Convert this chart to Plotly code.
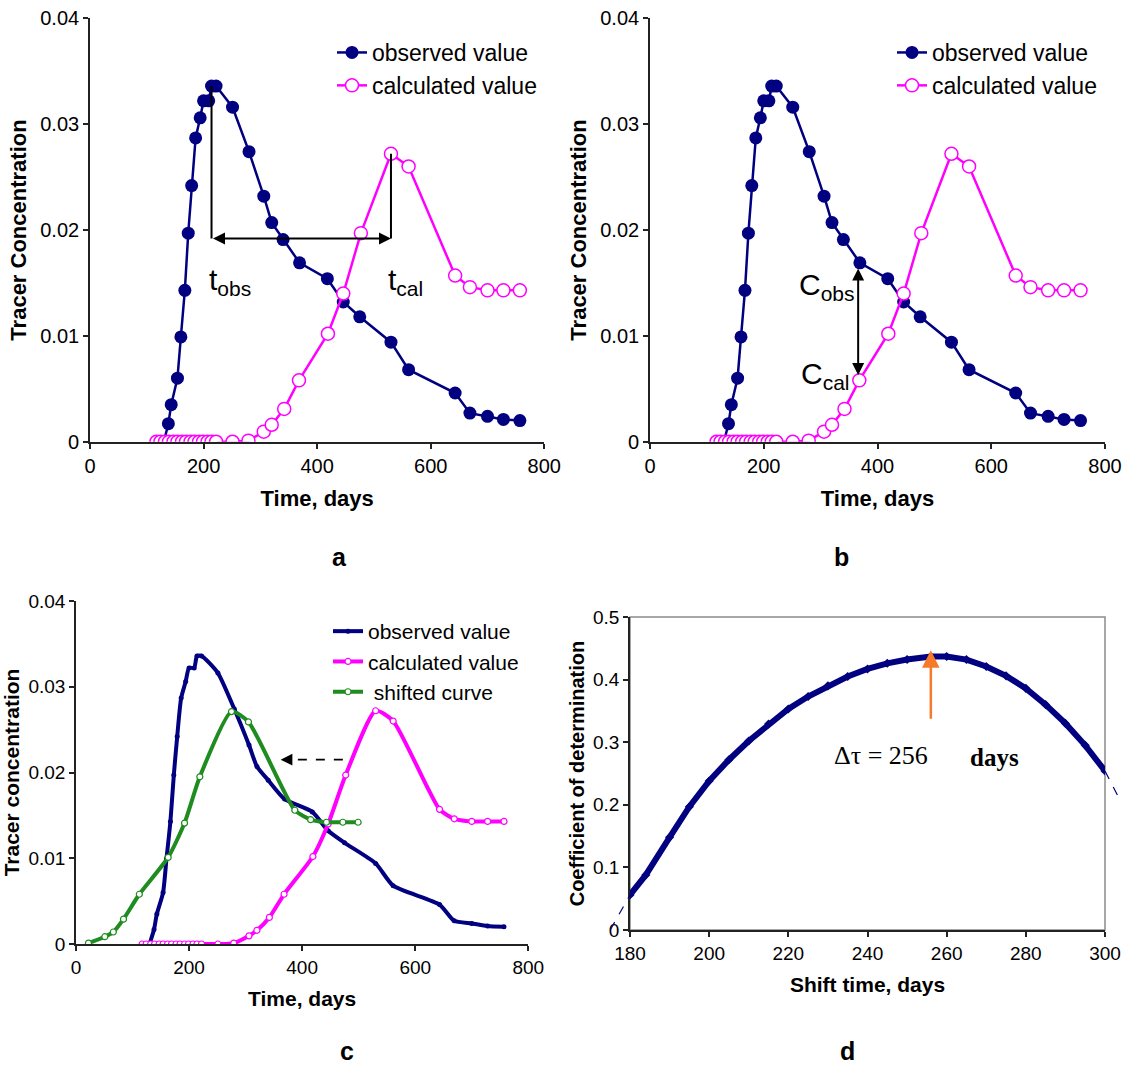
import plotly.graph_objects as go

W, H = 1130, 1067

# ---------------- data ----------------
obs_days = [130, 138, 143, 154, 160, 167, 173, 179, 186, 194, 200, 209, 214, 222,
            251, 280, 306, 320, 340, 369, 418, 446, 475, 530, 561, 643, 669, 700, 728, 757]
obs_conc = [0.0, 0.0017, 0.0035, 0.0060, 0.0099, 0.0143, 0.0197, 0.0242, 0.0287, 0.0306,
            0.0322, 0.0322, 0.0336, 0.0336, 0.0316, 0.0274, 0.0232, 0.0207, 0.0191, 0.0169,
            0.0154, 0.0132, 0.0118, 0.0094, 0.0068, 0.0046, 0.0027, 0.0024, 0.0021, 0.0020]

calc_days = [117, 124, 132, 139, 147, 154, 162, 169, 177, 184, 192, 199, 207, 214, 222,
             251, 279, 306, 320, 342, 368, 419, 446, 477, 530, 561, 643, 669, 700, 728, 757]
calc_conc = [0.0, 0.0, 0.0, 0.0, 0.0, 0.0, 0.0, 0.0, 0.0, 0.0, 0.0, 0.0, 0.0, 0.0, 0.0,
             0.0, 0.0001, 0.00095, 0.0016, 0.0031, 0.0058, 0.0102, 0.0140, 0.0197, 0.0272,
             0.0260, 0.0157, 0.0146, 0.0143, 0.0143, 0.0143]

shift_days = [22, 51, 66, 84, 112, 163, 192, 219, 275, 305, 387, 415, 443, 472, 499]
shift_conc = [0.0001, 0.00085, 0.0014, 0.0029, 0.0058, 0.0101, 0.0141, 0.0195, 0.0271,
              0.0259, 0.0156, 0.0145, 0.0142, 0.0142, 0.0142]

shift_time = [180, 184, 190, 195, 200, 205, 210, 215, 220, 225, 230, 235, 240, 245, 250,
              256, 260, 265, 270, 275, 280, 285, 290, 295, 300]
r2_values = [0.056, 0.088, 0.148, 0.197, 0.238, 0.272, 0.302, 0.329, 0.353, 0.373, 0.390,
             0.405, 0.417, 0.426, 0.432, 0.437, 0.437, 0.432, 0.421, 0.406, 0.386, 0.360,
             0.330, 0.295, 0.254]
trend_time = [175, 180, None, 300, 304]
trend_r2 = [0.0, 0.056, None, 0.254, 0.205]

best_shift = 256
arrow_level = 0.0192          # level of the t_obs <-> t_cal arrow
c_compare_day = 366           # day of the C_obs / C_cal comparison

x_ticks_time = [0, 200, 400, 600, 800]
y_ticks_conc = [0, 0.01, 0.02, 0.03, 0.04]
x_ticks_shift = [180, 200, 220, 240, 260, 280, 300]
y_ticks_r2 = [0, 0.1, 0.2, 0.3, 0.4, 0.5]

NAVY = "#000080"
MAGENTA = "#FF00FF"
GREEN = "#1E8C1E"
ORANGE = "#F7792B"
FONT = "Arial, Liberation Sans, sans-serif"
SERIF = "Times New Roman, Liberation Serif, serif"


def fx(px):
    return px / W


def fy(py):
    return 1 - py / H


fig = go.Figure()

# ---------------- panels a and b ----------------
for xa, ya, leg in (("x", "y", "legend"), ("x2", "y2", "legend2")):
    fig.add_trace(go.Scatter(
        x=obs_days, y=obs_conc, xaxis=xa, yaxis=ya, legend=leg,
        mode="lines+markers", name="observed value",
        line=dict(color=NAVY, width=2.5),
        marker=dict(color=NAVY, size=13, symbol="circle", line=dict(width=0)),
    ))
    fig.add_trace(go.Scatter(
        x=calc_days, y=calc_conc, xaxis=xa, yaxis=ya, legend=leg,
        mode="lines+markers", name="calculated value",
        line=dict(color=MAGENTA, width=2.5),
        marker=dict(color="white", size=13, symbol="circle",
                    line=dict(color=MAGENTA, width=1.5)),
    ))

# t_obs / t_cal construction lines (panel a)
i_obs = obs_conc.index(max(obs_conc))
i_cal = calc_conc.index(max(calc_conc))
t_obs = obs_days[i_obs]
t_cal = calc_days[i_cal]
fig.add_trace(go.Scatter(x=[t_obs, t_obs], y=[obs_conc[i_obs], arrow_level],
                         xaxis="x", yaxis="y", mode="lines", showlegend=False,
                         line=dict(color="black", width=2), hoverinfo="skip"))
fig.add_trace(go.Scatter(x=[t_cal, t_cal], y=[calc_conc[i_cal], arrow_level],
                         xaxis="x", yaxis="y", mode="lines", showlegend=False,
                         line=dict(color="black", width=2), hoverinfo="skip"))

# ---------------- panel c ----------------
fig.add_trace(go.Scatter(
    x=obs_days, y=obs_conc, xaxis="x3", yaxis="y3", legend="legend3",
    mode="lines+markers", name="observed value", line_shape="spline",
    line=dict(color=NAVY, width=4, smoothing=0.6),
    marker=dict(color=NAVY, size=5),
))
fig.add_trace(go.Scatter(
    x=calc_days, y=calc_conc, xaxis="x3", yaxis="y3", legend="legend3",
    mode="lines+markers", name="calculated value", line_shape="spline",
    line=dict(color=MAGENTA, width=4, smoothing=0.6),
    marker=dict(color="white", size=6, line=dict(color=MAGENTA, width=1.2)),
))
fig.add_trace(go.Scatter(
    x=shift_days, y=shift_conc, xaxis="x3", yaxis="y3", legend="legend3",
    mode="lines+markers", name=" shifted curve", line_shape="spline",
    line=dict(color=GREEN, width=4, smoothing=0.6),
    marker=dict(color="white", size=6, line=dict(color=GREEN, width=1.2)),
))
# dashed shift arrow shaft (panel c)
fig.add_trace(go.Scatter(x=[472, 370], y=[0.0215, 0.0215], xaxis="x3", yaxis="y3",
                         mode="lines", showlegend=False, hoverinfo="skip",
                         line=dict(color="black", width=1.8, dash="dash")))

# ---------------- panel d ----------------
fig.add_trace(go.Scatter(
    x=shift_time, y=r2_values, xaxis="x4", yaxis="y4", mode="lines+markers",
    showlegend=False, line=dict(color=NAVY, width=6),
    marker=dict(color=NAVY, size=7, symbol="diamond"),
))
fig.add_trace(go.Scatter(
    x=trend_time, y=trend_r2, xaxis="x5", yaxis="y5", mode="lines",
    showlegend=False, line=dict(color=NAVY, width=1.2, dash="dash"),
))

# ---------------- axes ----------------
def axis(domain, rng, tickvals, title, tsize=20, title_size=22, standoff=None, **kw):
    t = dict(text=title, font=dict(family=FONT, size=title_size, color="black"))
    if standoff is not None:
        t["standoff"] = standoff
    d = dict(domain=domain, range=rng, tickvals=tickvals, showline=True,
             linecolor="#222222", linewidth=1.6, ticks="outside", ticklen=5,
             tickwidth=1.5, tickcolor="#222222", showgrid=False, zeroline=False,
             automargin=False,
             tickfont=dict(family=FONT, size=tsize, color="black"), title=t)
    d.update(kw)
    return d


dom_a_x = [fx(90), fx(544.3)]
dom_b_x = [fx(650), fx(1105)]
dom_ab_y = [fy(441.7), fy(18.3)]
dom_c_x = [fx(76), fx(528.3)]
dom_c_y = [fy(944), fy(601)]
dom_d_x = [fx(630), fx(1105)]
dom_d_y = [fy(930), fy(617)]
px_per_day_d = (1105 - 630) / (x_ticks_shift[-1] - x_ticks_shift[0])
dom_e_x = [fx(630 - (x_ticks_shift[0] - trend_time[0]) * px_per_day_d),
           fx(1105 + (trend_time[-1] - x_ticks_shift[-1]) * px_per_day_d)]

fig.update_layout(
    xaxis=axis(dom_a_x, [0, 800], x_ticks_time, "<b>Time, days</b>", anchor="y"),
    yaxis=axis(dom_ab_y, [0, 0.04], y_ticks_conc, "<b>Tracer Concentration</b>",
               standoff=8, anchor="x"),
    xaxis2=axis(dom_b_x, [0, 800], x_ticks_time, "<b>Time, days</b>", anchor="y2"),
    yaxis2=axis(dom_ab_y, [0, 0.04], y_ticks_conc, "<b>Tracer Concentration</b>",
                standoff=8, anchor="x2"),
    xaxis3=axis(dom_c_x, [0, 800], x_ticks_time, "<b>Time, days</b>", tsize=19,
                title_size=21, anchor="y3"),
    yaxis3=axis(dom_c_y, [0, 0.04], y_ticks_conc, "<b>Tracer concentration</b>", tsize=19,
                title_size=21, standoff=8, anchor="x3"),
    xaxis4=axis(dom_d_x, [180, 300], x_ticks_shift, "<b>Shift time, days</b>", tsize=19,
                title_size=21, anchor="y4"),
    yaxis4=axis(dom_d_y, [0, 0.5], y_ticks_r2, "<b>Coefficient of determination</b>",
                tsize=19, title_size=20, standoff=3, anchor="x4"),
    xaxis5=dict(domain=dom_e_x, range=[trend_time[0], trend_time[-1]], visible=False,
                anchor="y5"),
    yaxis5=dict(domain=dom_d_y, range=[0, 0.5], visible=False, anchor="x5"),
)

# ---------------- legends ----------------
leg_common = dict(xanchor="left", yanchor="top", bgcolor="rgba(0,0,0,0)",
                  borderwidth=0, tracegroupgap=0)
fig.update_layout(
    legend=dict(x=fx(332), y=fy(31), font=dict(family=FONT, size=23, color="black"),
                **leg_common),
    legend2=dict(x=fx(892), y=fy(31), font=dict(family=FONT, size=23, color="black"),
                 **leg_common),
    legend3=dict(x=fx(328), y=fy(611), font=dict(family=FONT, size=21, color="black"),
                 **leg_common),
)

# ---------------- annotations ----------------
ann = []
# panel a: double arrow between t_obs and t_cal
ann.append(dict(x=t_cal, y=arrow_level, ax=t_obs, ay=arrow_level, xref="x", yref="y",
                axref="x", ayref="y", text="", showarrow=True, arrowhead=2,
                arrowside="end+start", arrowsize=1.2, arrowwidth=2, arrowcolor="black"))
ann.append(dict(x=247, y=0.0151, xref="x", yref="y", showarrow=False,
                text="t<sub>obs</sub>", font=dict(family=FONT, size=30, color="black")))
ann.append(dict(x=555, y=0.0151, xref="x", yref="y", showarrow=False,
                text="t<sub>cal</sub>", font=dict(family=FONT, size=30, color="black")))
# panel b: C_obs / C_cal double arrow
ann.append(dict(x=c_compare_day, y=0.0063, ax=c_compare_day, ay=0.0165, xref="x2",
                yref="y2", axref="x2", ayref="y2", text="", showarrow=True, arrowhead=2,
                arrowside="end+start", arrowsize=1.2, arrowwidth=2, arrowcolor="black"))
ann.append(dict(x=312, y=0.0147, xref="x2", yref="y2", showarrow=False,
                text="C<sub>obs</sub>", font=dict(family=FONT, size=30, color="black")))
ann.append(dict(x=308, y=0.0063, xref="x2", yref="y2", showarrow=False,
                text="C<sub>cal</sub>", font=dict(family=FONT, size=30, color="black")))
# panel c: arrow head of the dashed shift arrow
ann.append(dict(x=362, y=0.0215, ax=372, ay=0.0215, xref="x3", yref="y3", axref="x3",
                ayref="y3", text="", showarrow=True, arrowhead=2, arrowsize=1.3,
                arrowwidth=1.8, arrowcolor="black"))
# panel d: orange arrow and label
ann.append(dict(x=best_shift, y=0.447, ax=best_shift, ay=0.335, xref="x4", yref="y4",
                axref="x4", ayref="y4", text="", showarrow=True, arrowhead=2,
                arrowsize=1.4, arrowwidth=2.5, arrowcolor=ORANGE))
ann.append(dict(x=243.4, y=0.278, xref="x4", yref="y4", showarrow=False,
                text="\u0394\u03c4 = " + str(best_shift),
                font=dict(family=SERIF, size=26, color="black")))
ann.append(dict(x=272.2, y=0.276, xref="x4", yref="y4", showarrow=False,
                text="<b>days</b>", font=dict(family=SERIF, size=25, color="black")))
# panel letters
for letter, px in (("a", 330), ("b", 851)):
    ann.append(dict(x=fx(px), y=fy(557), xref="paper", yref="paper", showarrow=False,
                    text="<b>" + letter + "</b>", font=dict(family=FONT, size=25, color="black")))
for letter, px in (("c", 338), ("d", 857)):
    ann.append(dict(x=fx(px), y=0, xref="paper", yref="paper", yanchor="bottom",
                    showarrow=False, text="<b>" + letter + "</b>",
                    font=dict(family=FONT, size=25, color="black")))

fig.update_layout(annotations=ann)

# gray box (top/right) of panel d
fig.add_shape(type="rect", xref="x4 domain", yref="y4 domain", x0=0, x1=1, y0=0, y1=1,
              line=dict(color="#8C8C8C", width=1.5), layer="below")

fig.update_layout(
    width=W, height=H, margin=dict(l=0, r=0, t=0, b=0, autoexpand=False),
    paper_bgcolor="white", plot_bgcolor="rgba(0,0,0,0)",
    font=dict(family=FONT, color="black"),
)

fig.write_html("out.html", config={"displayModeBar": False},
               post_script="document.body.style.margin='0';document.body.style.overflow='hidden';")
